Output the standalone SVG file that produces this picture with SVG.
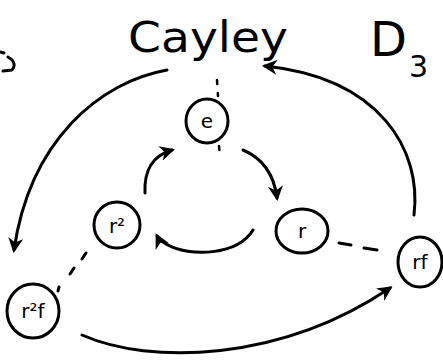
<svg xmlns="http://www.w3.org/2000/svg" width="443" height="364" viewBox="0 0 443 364">
<style>
.ink{fill:none;stroke:#000;stroke-width:3;stroke-linecap:round;stroke-linejoin:round}
.dot{fill:none;stroke:#000;stroke-width:2.5;stroke-linecap:round;stroke-dasharray:4 9}
.lbl{font-family:"DejaVu Sans",sans-serif;font-size:20px;fill:#000;text-anchor:middle}
.title{font-family:"DejaVu Sans",sans-serif;fill:#000}
</style>
<defs>
<marker id="ah" viewBox="0 0 10 10" refX="8" refY="5" markerWidth="5" markerHeight="5" orient="auto">
<path d="M0,0 L10,5 L0,10 L3,5 Z" fill="#000"/>
</marker>
</defs>
<rect width="443" height="364" fill="#fff"/>
<g id="title">
<text class="title" x="128" y="52" font-size="42" textLength="160" lengthAdjust="spacingAndGlyphs">Cayley</text>
<text class="title" x="370" y="56" font-size="48">D</text>
<text class="title" x="409" y="77" font-size="30">3</text>
</g>
<g id="edge-fragment">
<path class="ink" d="M0 52 L4 53 M8 57 C14 60 16 66 12 70 L3 71"/>
</g>
<g id="connectors">
<path class="dot" d="M217 80 L218 96"/>
<path class="dot" d="M219 146 L220 158"/>
<path class="ink" d="M145 193 C144 170 152 156 172 150" marker-end="url(#ah)"/>
<path class="ink" d="M243 150 C262 158 274 174 277 198" marker-end="url(#ah)"/>
<path class="ink" d="M253 230 C238 255 190 258 166 244 C160 240 158 238 157 236" marker-end="url(#ah)"/>
<path class="ink" d="M414 215 C422 150 380 78 265 66" marker-end="url(#ah)"/>
<path class="ink" d="M167 70 C100 82 30 140 14 250" marker-end="url(#ah)"/>
<path class="ink" d="M82 335 C150 365 280 362 390 288" marker-end="url(#ah)"/>
<path class="ink" d="M339 243 L351 245 M364 248 L377 250"/>
<path class="ink" d="M86 253 L82 259 M74 268 L70 274 M59 287 L58 291"/>
</g>
<g id="node-e">
<ellipse class="ink" cx="207" cy="121" rx="21" ry="22"/>
<text class="lbl" x="207" y="128">e</text>
</g>
<g id="node-r2">
<ellipse class="ink" cx="117" cy="225" rx="23" ry="23"/>
<text class="lbl" x="117" y="233">r²</text>
</g>
<g id="node-r">
<ellipse class="ink" cx="302" cy="231" rx="26" ry="22"/>
<text class="lbl" x="302" y="238">r</text>
</g>
<g id="node-rf">
<ellipse class="ink" cx="420" cy="262" rx="22" ry="25"/>
<text class="lbl" x="420" y="269">rf</text>
</g>
<g id="node-r2f">
<ellipse class="ink" cx="33" cy="311" rx="26" ry="27"/>
<text class="lbl" x="33" y="318">r²f</text>
</g>
</svg>
